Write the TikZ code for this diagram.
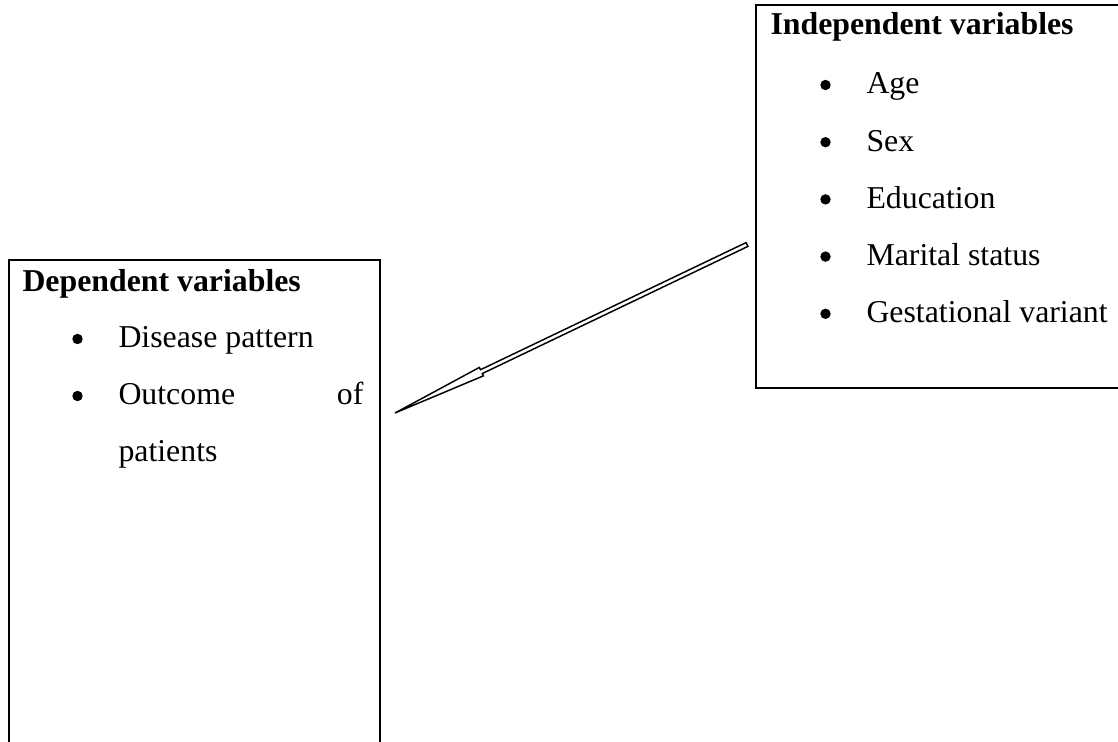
\documentclass[tikz,border=0pt]{standalone}
\usepackage{fontspec}
\setmainfont{Liberation Serif}
\usepackage{tikz}
\usetikzlibrary{calc}
\tikzstyle{canvas} = [x = 0.013263cm, y = -0.013263cm]
\tikzstyle{varBox} = [draw, line width=0.75pt, inner sep=0pt, anchor=north west]
\tikzstyle{varText} = [inner sep=0pt, anchor=base west, font=\fontsize{12pt}{14pt}\selectfont]
\tikzstyle{varTitle} = [varText, font=\fontsize{12pt}{14pt}\selectfont\bfseries]
\tikzstyle{bulletMark} = [circle, fill=black, inner sep=0pt, minimum size=0.138cm]
\tikzstyle{arrowLine} = [line width=0.55pt, fill=white, line join=miter]
\newcommand{\pxLen}{0.013263cm}
\newcommand{\headLen}{1.27cm}
\newcommand{\headHalf}{0.062cm}
\newcommand{\shaftHalf}{0.028cm}
\newcommand{\bulletItem}[4]{
  \node [bulletMark] (#1Dot) at (#2 - 40.5, #3 - 9) {};
  \node [varText] (#1) at (#2, #3) {#4};
}

\begin{document}
\begin{tikzpicture}[canvas]
    \useasboundingbox (0,0) rectangle (1118,742);
    \clip (0,0) rectangle (1118,742);
    % boxes
    \node [varBox, minimum width={371*\pxLen}, minimum height={520*\pxLen}] (depBox) at (8,259) {};
    \node [varBox, minimum width={380*\pxLen}, minimum height={383*\pxLen}] (indepBox) at (755,4) {};
    % dependent side
    \node [varTitle] (depTitle) at (22,291.5) {Dependent variables};
    \bulletItem{diseaseItem}{118}{348}{Disease pattern}
    \bulletItem{outcomeItem}{118}{405}{Outcome}
    \node [varText, anchor=base east] (outcomeOf) at (364,405) {of};
    \node [varText] (outcomePatients) at (118,462) {patients};
    % independent side
    \node [varTitle] (indepTitle) at (770,35) {Independent variables};
    \foreach \itemText [count=\i] in {Age, Sex, Education, Marital status, Gestational variant} {
      \pgfmathsetmacro{\itemY}{94 + 57.2 * (\i - 1)}
      \bulletItem{indepItem\i}{866}{\itemY}{\itemText}
    }
    % arrow
    \coordinate (arrowTail) at (747,244.5);
    \coordinate (arrowTip) at (395,413);
    \coordinate (headBase) at ($(arrowTip)!\headLen!(arrowTail)$);
    \draw [arrowLine] (arrowTip)
      -- ($(headBase)!\headHalf!90:(arrowTail)$)
      -- ($(headBase)!\shaftHalf!90:(arrowTail)$)
      -- ($(arrowTail)!\shaftHalf!-90:(arrowTip)$)
      -- ($(arrowTail)!\shaftHalf!90:(arrowTip)$)
      -- ($(headBase)!\shaftHalf!-90:(arrowTail)$)
      -- ($(headBase)!\headHalf!-90:(arrowTail)$)
      -- cycle;
\end{tikzpicture}
\end{document}
